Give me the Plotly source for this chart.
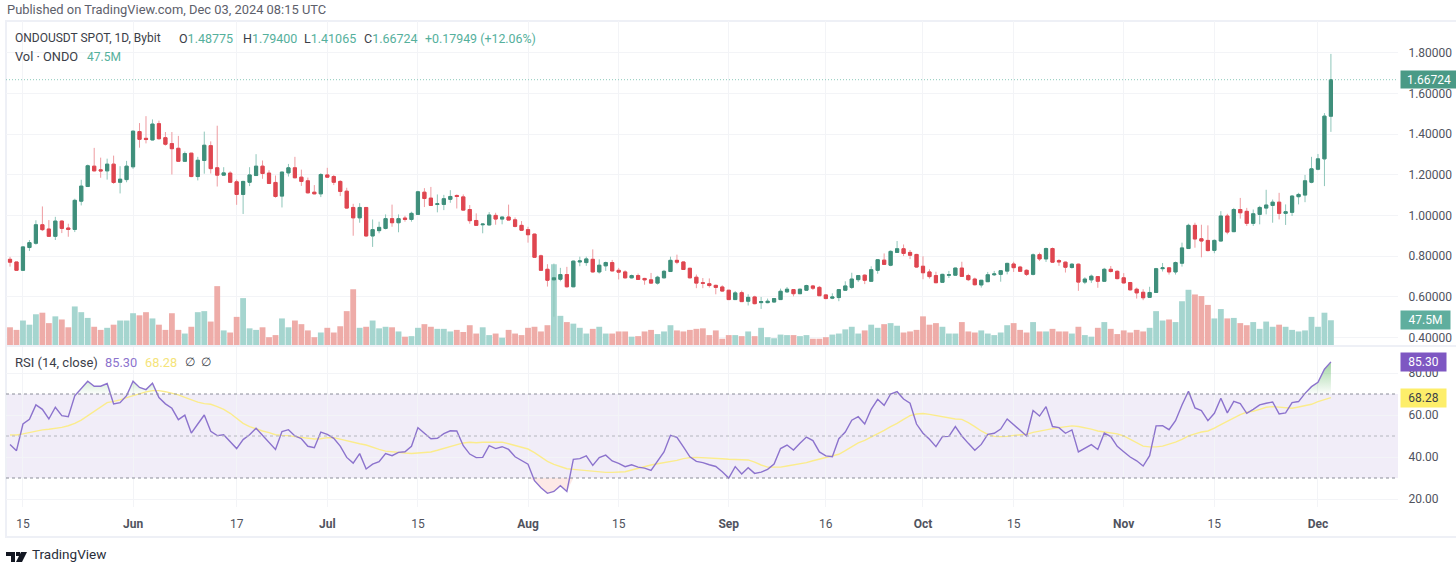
#!/usr/bin/env python3
"""ONDOUSDT daily candles with volume and RSI, TradingView style."""

import numpy as np
import pandas as pd
import plotly.graph_objects as go

W, H = 1456, 562

dates = pd.date_range("2024-05-13", periods=205, freq="D")

opens = [
    .784, .771, .730, .842, .863, .954, .933, .897, .972, .938,
    .931, 1.070, 1.142, 1.242, 1.224, 1.219, 1.252, 1.163, 1.176, 1.239,
    1.412, 1.379, 1.371, 1.451, 1.382, 1.353, 1.330, 1.266, 1.306, 1.191,
    1.270, 1.343, 1.234, 1.198, 1.208, 1.165, 1.103, 1.163, 1.196, 1.242,
    1.208, 1.162, 1.095, 1.209, 1.234, 1.188, 1.170, 1.114, 1.106, 1.199,
    1.191, 1.167, 1.119, 1.039, .988, 1.039, .899, .925, .936, .984,
    .964, .987, .980, 1.005, 1.114, 1.085, 1.054, 1.054, 1.079, 1.098,
    1.091, 1.029, .975, .954, .953, 1.000, .982, .992, .978, .951,
    .930, .908, .801, .735, .683, .686, .709, .649, .771, .768,
    .784, .722, .752, .768, .730, .722, .693, .704, .690, .683,
    .667, .693, .724, .779, .771, .740, .696, .669, .664, .656,
    .648, .632, .586, .620, .578, .599, .571, .571, .574, .586,
    .624, .635, .615, .632, .653, .646, .609, .593, .596, .632,
    .646, .684, .706, .676, .730, .780, .755, .818, .836, .818,
    .808, .750, .722, .704, .671, .706, .706, .741, .704, .687,
    .658, .674, .708, .710, .726, .761, .746, .730, .710, .807,
    .786, .837, .778, .770, .744, .760, .672, .683, .699, .676,
    .735, .725, .693, .670, .637, .622, .597, .621, .738, .742,
    .722, .765, .837, .951, .885, .877, .828, .874, .997, .920,
    1.029, 1.020, .961, 1.005, 1.036, 1.049, 1.065, 1.010, 1.015, 1.092,
    1.100, 1.163, 1.227, 1.278, 1.48775,
]
highs = [
    .796, .771, .848, .879, .976, 1.044, .977, .993, .976, .959,
    1.082, 1.175, 1.250, 1.332, 1.284, 1.279, 1.294, 1.242, 1.268, 1.418,
    1.454, 1.488, 1.472, 1.466, 1.410, 1.410, 1.391, 1.314, 1.307, 1.288,
    1.412, 1.364, 1.441, 1.237, 1.217, 1.176, 1.170, 1.237, 1.301, 1.270,
    1.222, 1.196, 1.214, 1.253, 1.288, 1.225, 1.186, 1.149, 1.208, 1.234,
    1.199, 1.173, 1.136, 1.057, 1.060, 1.039, .980, .969, 1.005, 1.053,
    1.005, .998, 1.018, 1.121, 1.134, 1.140, 1.103, 1.101, 1.124, 1.103,
    1.103, 1.051, 1.010, .961, 1.016, 1.013, .993, 1.053, .990, .972,
    .944, .910, .807, .760, .763, .742, .747, .778, .797, .797,
    .833, .784, .773, .781, .742, .730, .709, .714, .693, .717,
    .703, .732, .797, .807, .773, .742, .709, .692, .690, .659,
    .656, .633, .628, .630, .612, .605, .599, .591, .593, .640,
    .648, .637, .640, .659, .658, .653, .612, .617, .638, .676,
    .718, .707, .710, .750, .785, .813, .828, .874, .857, .830,
    .811, .799, .735, .723, .713, .727, .743, .772, .713, .694,
    .681, .722, .727, .731, .767, .772, .752, .735, .813, .817,
    .842, .842, .785, .773, .765, .763, .696, .709, .701, .742,
    .751, .730, .716, .673, .645, .637, .649, .742, .766, .745,
    .773, .866, .959, .964, .954, .951, .882, 1.021, 1.008, 1.037,
    1.086, 1.037, 1.029, 1.047, 1.126, 1.078, 1.111, 1.054, 1.100, 1.111,
    1.199, 1.288, 1.302, 1.503, 1.794,
]
lows = [
    .748, .727, .727, .825, .856, .923, .894, .879, .913, .895,
    .918, 1.049, 1.140, 1.217, 1.185, 1.176, 1.155, 1.108, 1.163, 1.229,
    1.333, 1.354, 1.369, 1.373, 1.343, 1.201, 1.265, 1.263, 1.188, 1.172,
    1.205, 1.206, 1.142, 1.195, 1.162, 1.052, 1.007, 1.144, 1.195, 1.180,
    1.154, 1.087, 1.039, 1.191, 1.183, 1.145, 1.108, 1.104, 1.090, 1.186,
    1.149, 1.095, 1.033, .900, .964, .895, .845, .912, .931, .944,
    .917, .969, .969, 1.002, 1.041, 1.046, 1.015, 1.026, 1.062, 1.034,
    1.023, .959, .948, .912, .951, .954, .956, .977, .941, .923,
    .866, .791, .727, .650, .502, .676, .645, .647, .750, .752,
    .719, .714, .727, .725, .685, .690, .690, .683, .659, .663,
    .660, .691, .722, .760, .732, .691, .642, .642, .645, .612,
    .625, .584, .584, .574, .557, .563, .540, .568, .573, .584,
    .619, .602, .614, .630, .633, .604, .588, .588, .578, .630,
    .638, .673, .662, .673, .713, .756, .750, .816, .800, .785,
    .743, .686, .689, .667, .669, .692, .704, .699, .677, .656,
    .645, .673, .702, .674, .710, .722, .722, .702, .705, .776,
    .771, .768, .752, .719, .738, .629, .662, .668, .644, .675,
    .719, .686, .665, .631, .591, .583, .595, .619, .724, .709,
    .709, .748, .835, .841, .794, .823, .814, .872, .907, .918,
    .984, .948, .948, .956, 1.005, .964, .980, .953, .997, 1.054,
    1.065, 1.158, 1.222, 1.144, 1.41065,
]
closes = [
    .770, .730, .845, .866, .954, .930, .897, .972, .936, .931,
    1.074, 1.144, 1.244, 1.219, 1.219, 1.252, 1.162, 1.178, 1.242, 1.414,
    1.374, 1.373, 1.449, 1.377, 1.350, 1.328, 1.266, 1.304, 1.191, 1.271,
    1.345, 1.230, 1.198, 1.209, 1.163, 1.103, 1.167, 1.199, 1.242, 1.206,
    1.157, 1.093, 1.213, 1.234, 1.185, 1.167, 1.111, 1.106, 1.201, 1.188,
    1.163, 1.118, 1.036, .988, 1.039, .899, .930, .941, .984, .964,
    .984, .980, 1.010, 1.116, 1.083, 1.049, 1.057, 1.082, 1.093, 1.093,
    1.026, .974, .951, .957, 1.002, .982, .992, .977, .946, .927,
    .905, .794, .730, .681, .693, .709, .649, .775, .776, .786,
    .722, .755, .768, .727, .721, .693, .704, .685, .683, .667,
    .696, .725, .779, .770, .734, .693, .667, .666, .655, .646,
    .628, .586, .619, .576, .597, .566, .576, .578, .591, .627,
    .637, .615, .637, .655, .642, .605, .591, .599, .635, .653,
    .687, .704, .681, .733, .782, .759, .823, .836, .813, .804,
    .746, .718, .699, .669, .710, .708, .741, .700, .684, .659,
    .681, .708, .712, .728, .764, .743, .725, .710, .806, .786,
    .837, .770, .771, .745, .760, .672, .687, .701, .676, .735,
    .724, .689, .668, .634, .619, .595, .621, .738, .742, .722,
    .768, .840, .951, .884, .874, .827, .877, .997, .918, 1.029,
    1.013, .961, 1.008, 1.039, 1.051, 1.065, 1.010, 1.018, 1.095, 1.103,
    1.170, 1.229, 1.278, 1.488, 1.66724,
]
# volume in millions of ONDO
volumes = [
    34, 29, 47, 39, 59, 62, 42, 55, 49, 34,
    74, 63, 52, 35, 29, 33, 39, 47, 47, 61,
    57, 63, 51, 39, 29, 61, 29, 22, 35, 63,
    65, 45, 113, 28, 24, 54, 90, 32, 29, 34,
    15, 19, 51, 34, 47, 40, 28, 15, 24, 33,
    24, 36, 65, 107, 33, 35, 47, 32, 35, 34,
    26, 16, 17, 33, 40, 35, 31, 31, 26, 29,
    25, 38, 22, 34, 19, 22, 14, 29, 22, 19,
    33, 35, 26, 38, 155, 56, 44, 41, 33, 22,
    31, 35, 22, 22, 26, 26, 16, 17, 26, 29,
    21, 26, 38, 28, 26, 29, 31, 32, 19, 28,
    12, 19, 19, 17, 26, 17, 33, 15, 13, 20,
    19, 19, 17, 19, 12, 12, 15, 20, 22, 30,
    35, 22, 28, 39, 33, 40, 42, 37, 24, 26,
    29, 55, 39, 42, 35, 22, 22, 44, 26, 24,
    28, 22, 19, 24, 38, 42, 29, 24, 44, 26,
    26, 31, 26, 26, 22, 35, 19, 16, 33, 44,
    31, 21, 28, 24, 29, 26, 33, 65, 47, 49,
    44, 84, 106, 97, 94, 77, 51, 69, 51, 52,
    42, 38, 44, 31, 45, 35, 39, 35, 29, 26,
    28, 54, 35, 62, 47.5,
]
rsi_values = [
    46.0, 43.0, 55.7, 57.9, 64.8, 62.7, 58.1, 63.7, 59.7, 59.2,
    69.1, 72.6, 76.1, 73.7, 73.7, 75.0, 65.3, 65.9, 69.2, 76.1,
    73.1, 72.1, 75.1, 68.3, 65.3, 63.2, 57.8, 59.9, 51.4, 55.7,
    60.0, 52.2, 50.2, 50.6, 47.5, 44.0, 48.3, 50.6, 53.7, 50.5,
    47.3, 43.6, 52.1, 53.0, 50.0, 48.7, 45.1, 44.4, 51.9, 50.8,
    48.9, 45.2, 39.8, 37.1, 41.6, 34.3, 36.6, 37.8, 41.6, 40.6,
    42.2, 42.5, 45.1, 54.0, 51.3, 48.7, 48.9, 51.1, 52.5, 52.4,
    45.4, 41.4, 39.7, 39.8, 45.4, 44.0, 44.9, 43.6, 40.1, 38.2,
    36.6, 28.7, 25.4, 22.7, 23.6, 26.3, 23.6, 38.9, 39.2, 40.5,
    36.0, 39.7, 40.9, 38.1, 37.0, 35.4, 36.3, 35.2, 34.7, 33.6,
    38.1, 42.4, 50.3, 49.4, 44.8, 40.1, 37.9, 37.3, 36.3, 35.5,
    33.0, 30.0, 35.4, 31.9, 34.9, 32.2, 32.8, 34.1, 36.6, 44.0,
    45.7, 43.3, 46.5, 49.5, 47.8, 42.4, 40.5, 40.1, 48.7, 51.9,
    57.5, 59.2, 55.7, 62.7, 67.5, 64.6, 70.0, 71.1, 67.6, 65.6,
    55.7, 51.3, 48.4, 44.9, 49.7, 49.8, 54.5, 50.0, 46.5, 43.2,
    46.0, 50.8, 51.3, 53.3, 58.1, 55.2, 52.7, 50.0, 62.1, 59.5,
    64.0, 54.5, 54.0, 51.3, 52.9, 42.4, 44.1, 45.9, 43.6, 51.4,
    49.7, 45.1, 42.5, 40.0, 38.2, 35.7, 40.6, 54.8, 54.9, 53.0,
    57.3, 64.8, 71.3, 63.4, 62.1, 57.3, 60.8, 68.0, 61.0, 66.5,
    65.4, 60.8, 62.7, 64.8, 65.6, 66.2, 60.5, 61.0, 65.9, 66.4,
    70.3, 73.5, 75.6, 81.8, 85.30,
]
rsi_ma_values = [
    50.5, 50.5, 51.0, 51.7, 52.4, 52.9, 53.2, 53.5, 54.1, 54.9,
    56.0, 57.6, 59.7, 61.6, 63.7, 65.9, 66.5, 67.2, 68.3, 69.2,
    70.2, 71.0, 71.6, 71.6, 71.1, 70.5, 69.6, 68.4, 67.2, 66.1,
    65.4, 65.1, 64.0, 62.7, 60.8, 58.4, 56.0, 54.5, 53.3, 52.4,
    51.6, 50.6, 50.3, 50.2, 49.7, 49.4, 48.9, 48.6, 48.7, 49.2,
    49.2, 48.4, 47.6, 46.8, 46.3, 45.7, 44.6, 43.6, 42.8, 42.4,
    42.2, 41.9, 41.7, 41.9, 42.1, 42.4, 43.2, 44.0, 44.8, 45.9,
    46.7, 47.0, 46.8, 47.0, 47.0, 47.1, 47.1, 46.3, 45.5, 44.9,
    43.8, 42.1, 40.0, 37.9, 36.5, 35.4, 34.4, 34.1, 33.8, 33.6,
    33.3, 32.8, 32.7, 32.7, 32.7, 33.0, 33.8, 34.7, 35.5, 36.2,
    36.8, 37.3, 37.8, 38.4, 39.2, 39.7, 39.8, 39.7, 39.5, 39.5,
    39.2, 38.9, 38.9, 38.7, 38.6, 37.6, 36.2, 35.2, 35.1, 35.2,
    35.7, 36.2, 36.5, 37.3, 38.2, 39.0, 39.8, 40.3, 41.3, 43.0,
    44.9, 46.7, 47.9, 49.4, 51.0, 52.7, 54.5, 56.0, 57.9, 59.7,
    60.5, 60.7, 60.3, 59.7, 59.1, 58.7, 58.1, 57.9, 56.4, 54.5,
    52.4, 50.8, 49.8, 49.7, 49.8, 50.3, 50.5, 50.8, 51.7, 52.4,
    52.9, 53.5, 54.0, 54.5, 54.8, 54.5, 54.0, 53.3, 52.4, 51.9,
    51.7, 51.0, 50.0, 48.4, 46.7, 45.2, 44.8, 44.8, 45.2, 46.0,
    47.1, 48.4, 50.0, 51.0, 51.9, 52.4, 53.7, 55.4, 57.0, 58.3,
    60.2, 61.4, 61.8, 62.7, 63.7, 64.0, 63.7, 63.2, 63.2, 63.8,
    64.5, 65.1, 66.4, 67.3, 68.28,
]

price_ticks = [0.4, 0.6, 0.8, 1.0, 1.2, 1.4, 1.6, 1.8]
rsi_ticks = [20, 40, 60, 80]
time_ticks = ["2024-05-15", "2024-06-01", "2024-06-17", "2024-07-01", "2024-07-15",
              "2024-08-01", "2024-08-15", "2024-09-01", "2024-09-16", "2024-10-01",
              "2024-10-15", "2024-11-01", "2024-11-15", "2024-12-01"]
time_labels = ["15", "<b>Jun</b>", "17", "<b>Jul</b>", "15", "<b>Aug</b>", "15", "<b>Sep</b>",
               "16", "<b>Oct</b>", "15", "<b>Nov</b>", "15", "<b>Dec</b>"]

GREEN, RED = "#3f8f7b", "#df4650"
GREEN_WICK, RED_WICK = "#8fc6ba", "#ee9ba0"
VOL_GREEN, VOL_RED = "#a5d5cf", "#eeaca8"
PURPLE, YELLOW = "#8c73cd", "#fbec8c"
TEAL_TEXT = "#55b09c"
TEXT = "#50535e"
GRID = "#f3f4f7"
FONT = "Roboto, sans-serif"


def px(x):
    return x / W


def py(y):
    return 1 - y / H


o, h, l, c = map(np.array, (opens, highs, lows, closes))
rsi = np.array(rsi_values)
vol_colors = [VOL_GREEN if b >= a else VOL_RED for a, b in zip(opens, closes)]

fig = go.Figure()

fig.add_trace(go.Bar(x=dates, y=volumes, marker=dict(color=vol_colors, line_width=0),
                     width=0.9 * 86400000, xaxis="x", yaxis="y"))

# wicks are lighter than the bodies, so they get their own trace underneath
fig.add_trace(go.Candlestick(
    x=dates, open=o, high=h, low=l, close=c, xaxis="x", yaxis="y2",
    increasing=dict(line=dict(color=GREEN_WICK, width=1), fillcolor=GREEN_WICK),
    decreasing=dict(line=dict(color=RED_WICK, width=1), fillcolor=RED_WICK),
))
fig.add_trace(go.Candlestick(
    x=dates, open=o, high=np.maximum(o, c), low=np.minimum(o, c), close=c, xaxis="x", yaxis="y2",
    increasing=dict(line=dict(color=GREEN, width=1), fillcolor=GREEN),
    decreasing=dict(line=dict(color=RED, width=1), fillcolor=RED),
))

# overbought / oversold fills
fig.add_trace(go.Scatter(x=dates, y=[70] * len(dates), mode="lines", line=dict(width=0),
                         xaxis="x", yaxis="y3"))
fig.add_trace(go.Scatter(
    x=dates, y=np.maximum(rsi, 70), mode="lines", line=dict(width=0), fill="tonexty",
    fillgradient=dict(type="vertical", start=70, stop=86,
                      colorscale=[[0, "rgba(76,175,80,0.02)"], [1, "rgba(76,175,80,0.55)"]]),
    xaxis="x", yaxis="y3",
))
fig.add_trace(go.Scatter(x=dates, y=[30] * len(dates), mode="lines", line=dict(width=0),
                         xaxis="x", yaxis="y3"))
fig.add_trace(go.Scatter(x=dates, y=np.minimum(rsi, 30), mode="lines", line=dict(width=0),
                         fill="tonexty", fillcolor="rgba(240,120,100,0.16)", xaxis="x", yaxis="y3"))

fig.add_trace(go.Scatter(x=dates, y=rsi_ma_values, mode="lines",
                         line=dict(color=YELLOW, width=1.4), xaxis="x", yaxis="y3"))
fig.add_trace(go.Scatter(x=dates, y=rsi_values, mode="lines",
                         line=dict(color=PURPLE, width=1.4), xaxis="x", yaxis="y3"))

shapes = [
    # RSI band and its levels
    dict(type="rect", xref="x domain", x0=0, x1=1, yref="y3", y0=30, y1=70,
         fillcolor="rgba(126,87,194,0.11)", line_width=0, layer="below"),
    dict(type="line", xref="x domain", x0=0, x1=1, yref="y3", y0=70, y1=70,
         line=dict(color="#8a8d98", width=1, dash="3px,3px")),
    dict(type="line", xref="x domain", x0=0, x1=1, yref="y3", y0=50, y1=50,
         line=dict(color="#b4b6be", width=1, dash="3px,3px")),
    dict(type="line", xref="x domain", x0=0, x1=1, yref="y3", y0=30, y1=30,
         line=dict(color="#8a8d98", width=1, dash="3px,3px")),
    # last price
    dict(type="line", xref="x domain", x0=0, x1=1, yref="y2", y0=closes[-1], y1=closes[-1],
         line=dict(color="#8cc9ba", width=1, dash="1px,2px")),
    # outer frame and pane divider
    dict(type="rect", xref="paper", yref="paper", x0=px(6), x1=px(1460), y0=py(21), y1=py(537),
         line=dict(color="#eef0f6", width=2), layer="below"),
    dict(type="line", xref="paper", yref="paper", x0=px(6), x1=px(1456), y0=py(346), y1=py(346),
         line=dict(color="#eef0f6", width=2)),
    # footer logo
    dict(type="path", xref="paper", yref="paper", fillcolor="#131722", line_width=0,
         path=(f"M{px(6)},{py(552)} L{px(15)},{py(552)} L{px(15)},{py(562)} L{px(11)},{py(562)} "
               f"L{px(11)},{py(556)} L{px(6)},{py(556)} Z")),
    dict(type="path", xref="paper", yref="paper", fillcolor="#131722", line_width=0,
         path=(f"M{px(16)},{py(552)} L{px(20)},{py(552)} L{px(20)},{py(556)} L{px(16)},{py(556)} Z")),
    dict(type="path", xref="paper", yref="paper", fillcolor="#131722", line_width=0,
         path=(f"M{px(21)},{py(552)} L{px(27)},{py(552)} L{px(22)},{py(562)} L{px(16)},{py(562)} Z")),
]


def label(x, y, text, color=TEXT, size=12):
    # annotations carry about a pixel of padding on the left
    return dict(x=px(x - 1), y=py(y), xref="paper", yref="paper", text=text, showarrow=False,
                xanchor="left", yanchor="middle", borderpad=0,
                font=dict(family=FONT, size=size, color=color))


def price_box(x0, x1, y0, y1, text, bg, color="#ffffff"):
    return dict(x=px(x0), y=py((y0 + y1) / 2), xref="paper", yref="paper", text=text,
                showarrow=False, xanchor="left", yanchor="middle", width=x1 - x0, height=y1 - y0,
                bgcolor=bg, borderpad=0, align="center",
                font=dict(family=FONT, size=12, color=color))


annotations = [
    label(7, 9, "Published on TradingView.com, Dec 03, 2024 08:15 UTC", "#5d606b", 12.9),
    label(15, 38, "ONDOUSDT SPOT, 1D, Bybit", "#3b3e48"),
    label(179, 38, f"O<span style='color:{TEAL_TEXT}'>1.48775</span>", "#3b3e48", 12.5),
    label(243, 38, f"H<span style='color:{TEAL_TEXT}'>1.79400</span>", "#3b3e48", 12.5),
    label(304, 38, f"L<span style='color:{TEAL_TEXT}'>1.41065</span>", "#3b3e48", 12.5),
    label(364, 38, f"C<span style='color:{TEAL_TEXT}'>1.66724</span>", "#3b3e48", 12.5),
    label(425, 38, "+0.17949 (+12.06%)", TEAL_TEXT, 12.4),
    label(15, 57, "Vol · ONDO", "#3b3e48", 12.8),
    label(87, 57, "47.5M", TEAL_TEXT),
    label(15, 362, "RSI (14, close)", "#3b3e48", 13),
    label(105, 362, "85.30", PURPLE, 12.8),
    label(145, 362, "68.28", "#f5e47a", 12.8),
    label(185, 362, "∅", "#3b3e48"),
    label(201, 362, "∅", "#3b3e48"),
    price_box(1400, 1456, 71, 88, "1.66724", "#4a9a86"),
    price_box(1400, 1449, 311, 329, "47.5M", "#5fae9e"),
    price_box(1400, 1445, 353, 371, "85.30", "#7e57c2"),
    price_box(1400, 1445, 389, 407, "68.28", "#fdee6a", "#3b3e48"),
    label(32, 554, "TradingView", "#2a2e39", 13.5),
]

pane_left, pane_right = px(6), px(1398)
main_dom = [py(345), py(21)]
rsi_dom = [py(507), py(347)]

tick_axis = dict(
    side="right", showgrid=True, gridcolor=GRID, gridwidth=1, zeroline=False, showline=False,
    ticks="outside", ticklen=7, tickcolor="rgba(0,0,0,0)", autorange=False,
    tickfont=dict(family=FONT, size=12, color=TEXT),
)

fig.update_layout(
    width=W,
    height=H,
    autosize=False,
    margin=dict(l=0, r=0, t=0, b=0, pad=0),
    paper_bgcolor="#ffffff",
    plot_bgcolor="#ffffff",
    showlegend=False,
    hovermode=False,
    boxgap=0.3,
    xaxis=dict(
        type="date",
        domain=[pane_left, pane_right],
        anchor="y3",
        range=["2024-05-12 09:07", "2024-12-13 08:38"],
        autorange=False,
        rangeslider=dict(visible=False),
        tickmode="array",
        tickvals=time_ticks,
        ticktext=time_labels,
        ticks="outside",
        ticklen=6,
        tickcolor="rgba(0,0,0,0)",
        showgrid=True,
        gridcolor=GRID,
        zeroline=False,
        showline=False,
        tickangle=0,
        tickfont=dict(family=FONT, size=12, color=TEXT),
    ),
    # volume sits in the bottom of the main pane, scaled to its own hidden axis
    yaxis=dict(domain=main_dom, range=[0, 622], anchor="x", visible=False, autorange=False),
    yaxis2=dict(
        overlaying="y", anchor="x", range=[0.3627, 1.9559], tickmode="array",
        tickvals=price_ticks, ticktext=[f"{t:.5f}" for t in price_ticks], **tick_axis,
    ),
    yaxis3=dict(
        domain=rsi_dom, anchor="x", range=[16.19, 92.38], tickmode="array",
        tickvals=rsi_ticks, ticktext=[f"{t:.2f}" for t in rsi_ticks], **tick_axis,
    ),
    shapes=shapes,
    annotations=annotations,
)

fig.write_html(
    "out.html",
    config={"displayModeBar": False},
    post_script="document.body.style.margin='0';document.body.style.overflow='hidden';",
)
